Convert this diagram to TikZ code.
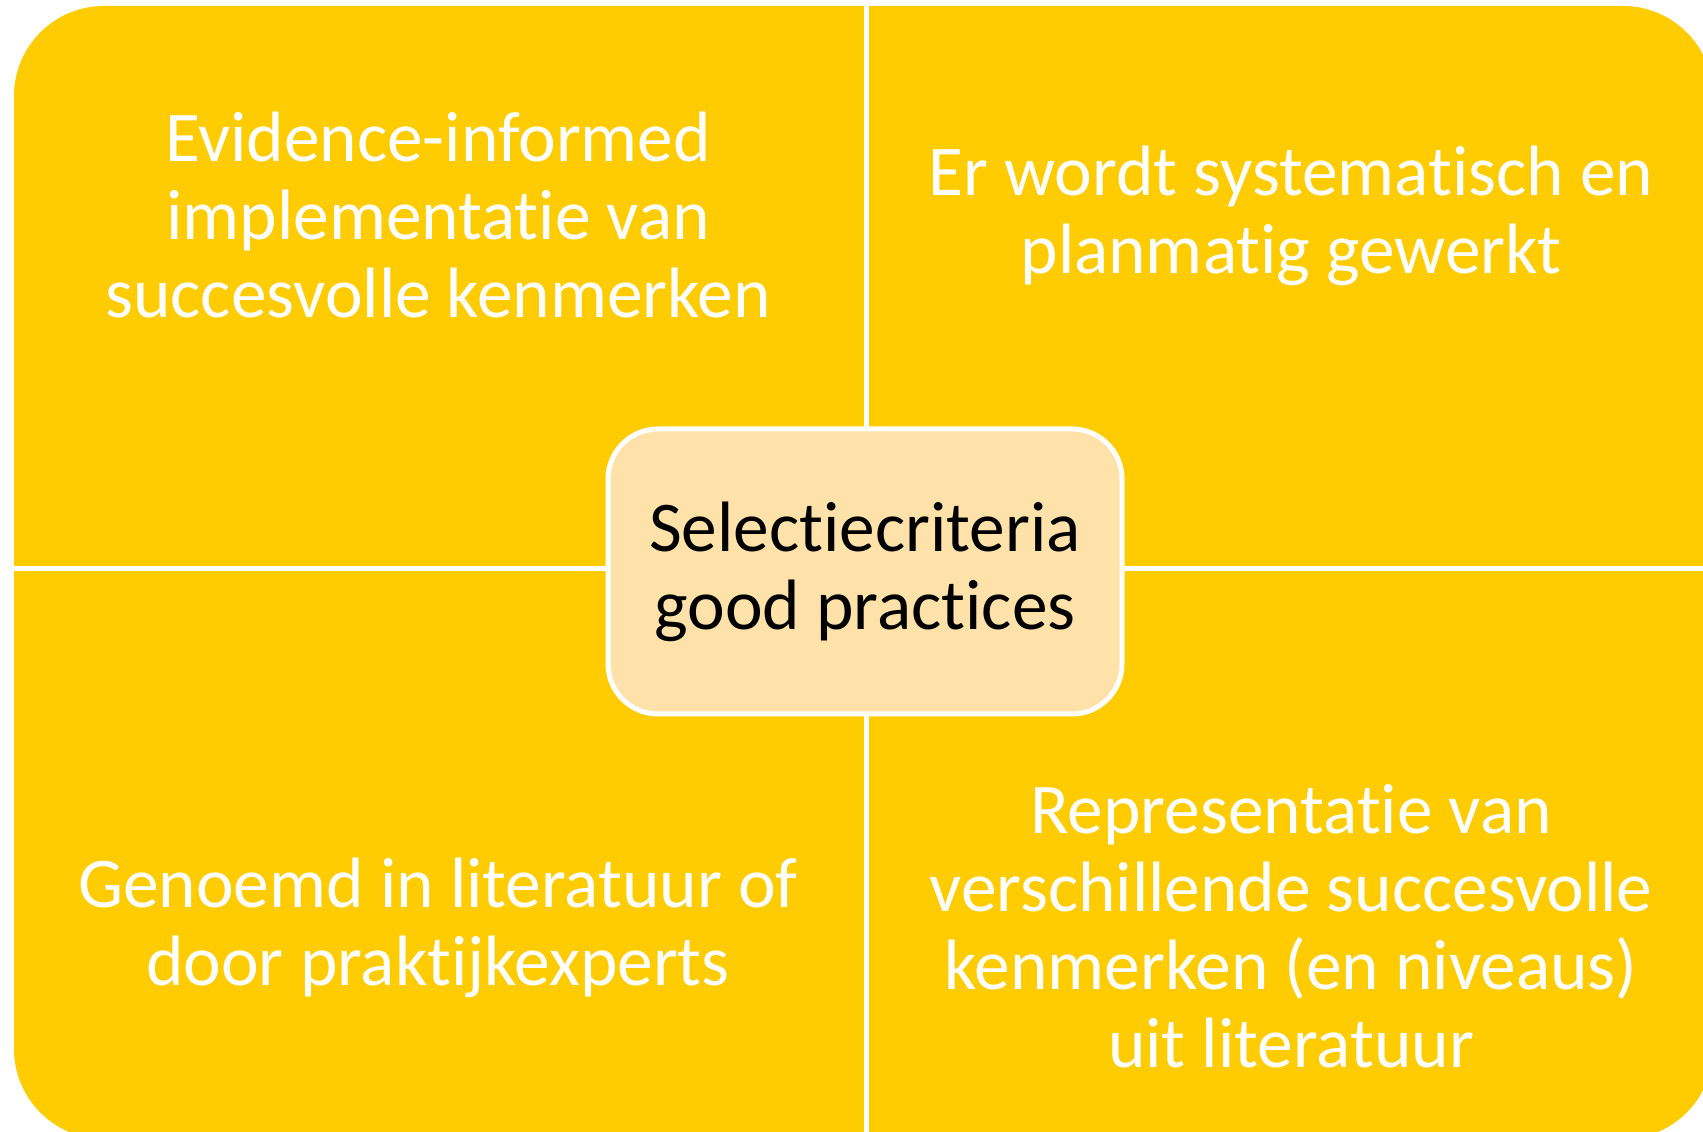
\documentclass[tikz,border=0pt]{standalone}
\usepackage{fontspec}
\setmainfont{Carlito}[Ligatures=NoCommon]
\usepackage{tikz}

\definecolor{quadyellow}{RGB}{254,204,0}
\definecolor{midorange}{RGB}{254,226,170}
\newcommand{\quadfont}{\fontsize{20.3}{22.2}\selectfont}

\tikzset{
  quadtext/.style={text=white, align=center, font=\quadfont},
  midbox/.style={draw=white, line width=0.05cm, fill=midorange, rounded corners=0.5cm,
    minimum width=5.14cm, minimum height=2.85cm, align=center, font=\quadfont, text=black},
  gap/.style={draw=white, line width=0.05cm}
}

\begin{document}
\begin{tikzpicture}
         \useasboundingbox (0, 0) rectangle (17.03, 11.32);
         \clip (0, 0) rectangle (17.03, 11.32);
         \fill [quadyellow, rounded corners=0.9cm] (0.14, -0.07) rectangle (17.13, 11.26);
         \draw [gap] (8.66, -0.2) -- (8.66, 11.4);
         \draw [gap] (0, 5.63) -- (17.2, 5.63);
         \node [quadtext] (LT) at (4.38, 9.17) {Evidence-informed\\implementatie van\\succesvolle kenmerken};
         \node [quadtext] (RT) at (12.91, 9.16) {Er wordt systematisch en\\planmatig gewerkt};
         \node [quadtext] (LB) at (4.38, 2.04) {Genoemd in literatuur of\\door praktijkexperts};
         \node [quadtext] (RB) at (12.91, 2.06) {Representatie van\\verschillende succesvolle\\kenmerken (en niveaus)\\uit literatuur};
         \node [midbox] (C) at (8.65, 5.605) {Selectiecriteria\\good practices};
\end{tikzpicture}
\end{document}
